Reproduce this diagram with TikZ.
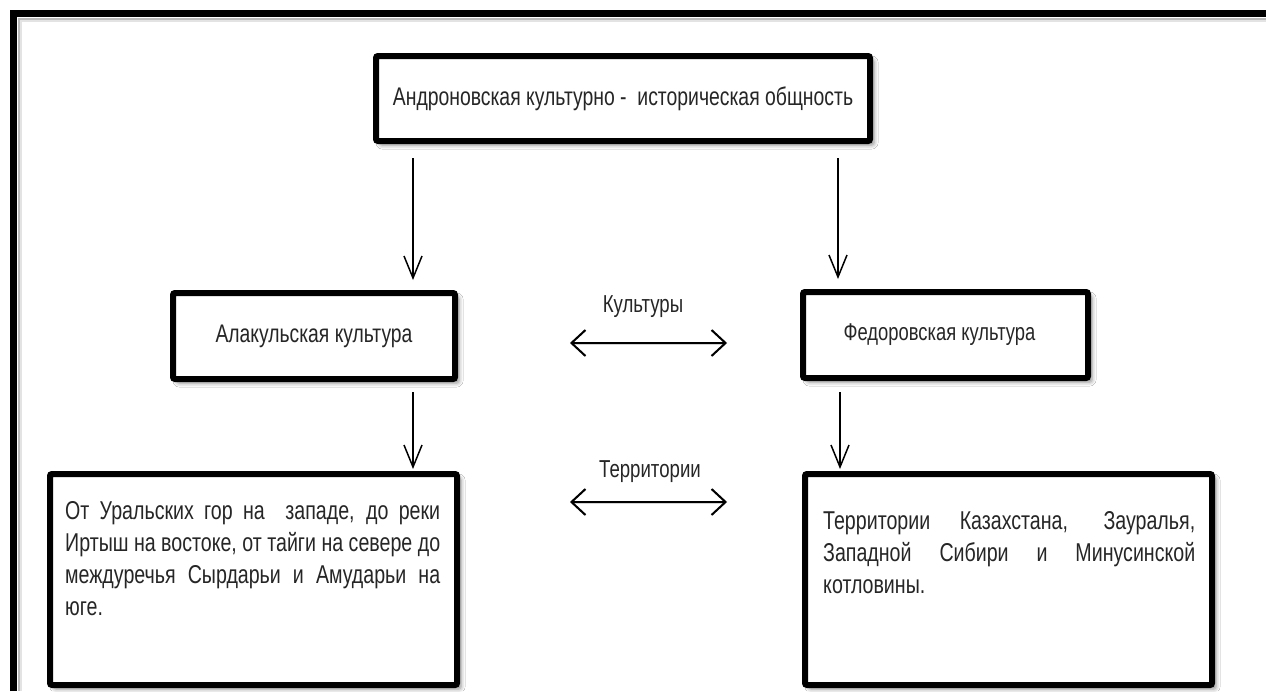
\documentclass[tikz,border=0pt]{standalone}
\usepackage{fontspec}
\setmainfont{Liberation Sans}[FakeStretch=0.76]
\usetikzlibrary{arrows.meta,shadows.blur}
\begin{document}
\begin{tikzpicture}[x=1pt,y=-1pt,
  box/.style={draw=black, line width=6pt, rounded corners=2pt, fill=white, inner sep=0pt,
    blur shadow={shadow xshift=4pt, shadow yshift=-4pt, shadow blur radius=4pt, shadow opacity=45}},
  vline/.style={line width=1.5pt, -{Straight Barb[length=22pt,width=18pt,line width=1.5pt]}},
  dtips/.style={{Straight Barb[length=14pt,width=26pt,line width=2pt]}-{Straight Barb[length=14pt,width=26pt,line width=2pt]}},
  dline/.style={line width=2.4pt, dtips},
  dshadow/.style={line width=3pt, dtips, draw=gray!35, shift={(3,3)}},
  lbl/.style={font=\fontsize{24.5}{28}\selectfont, inner sep=0pt, text=black!85},
  body/.style={font=\fontsize{25.8}{32.2}\selectfont, text width=375pt, align=justify, inner sep=0pt, anchor=north west, text=black!85}
]
\useasboundingbox (0,0) rectangle (1266,691);
\fill[white] (0,0) rectangle (1266,691);
% outer frame
\draw[gray!55, line width=2pt] (18.5,691) -- (18.5,18.5) -- (1266,18.5);
\draw[gray!22, line width=2pt] (20.5,691) -- (20.5,20.5) -- (1266,20.5);
\draw[line width=7pt] (13.5,691) -- (13.5,13.5) -- (1266,13.5);

% boxes
\node[box, minimum width=494pt, minimum height=85pt, font=\fontsize{25.5}{28}\selectfont, text=black!85] (top) at (623,98.5)
  {Андроновская культурно -\ \ историческая общность};
\node[box, minimum width=282pt, minimum height=86pt, font=\fontsize{25.4}{28}\selectfont, text=black!85] (ala) at (314,336) {Алакульская культура};
\node[box, minimum width=285pt, minimum height=86pt, font=\fontsize{24.2}{28}\selectfont, text=black!85] (fed) at (945.5,335) {Федоровская культура\hspace*{12pt}};
\node[box, minimum width=407pt, minimum height=211pt] (bl) at (253.5,579.5) {};
\node[box, minimum width=407pt, minimum height=211pt] (br) at (1008.5,579.5) {};

\node[body] (blt) at (65,501) {От Уральских гор на\ \ западе, до реки\linebreak Иртыш на востоке, от тайги на севере до\linebreak междуречья Сырдарьи и Амударьи на\linebreak юге.};
\node[body, text width=372pt] (brt) at (823,511) {Территории Казахстана, Зауралья,\linebreak Западной Сибири и Минусинской\linebreak котловины.};

% labels
\node[lbl, anchor=base] (kul) at (643,312) {Культуры};
\node[lbl, anchor=base] (ter) at (650,477) {Территории};

% arrow end points
\coordinate (a1s) at (413,158); \coordinate (a1e) at (413,280);
\coordinate (a2s) at (838,158); \coordinate (a2e) at (838,279);
\coordinate (a3s) at (413,392); \coordinate (a3e) at (413,469);
\coordinate (a4s) at (840,392); \coordinate (a4e) at (840,469);
\coordinate (d1l) at (570,343); \coordinate (d1r) at (727,343);
\coordinate (d2l) at (570,502); \coordinate (d2r) at (727,502);

\draw[vline] (a1s) -- (a1e);
\draw[vline] (a2s) -- (a2e);
\draw[vline] (a3s) -- (a3e);
\draw[vline] (a4s) -- (a4e);
\draw[dshadow] (d1l) -- (d1r);
\draw[dshadow] (d2l) -- (d2r);
\draw[dline] (d1l) -- (d1r);
\draw[dline] (d2l) -- (d2r);
\end{tikzpicture}
\end{document}
